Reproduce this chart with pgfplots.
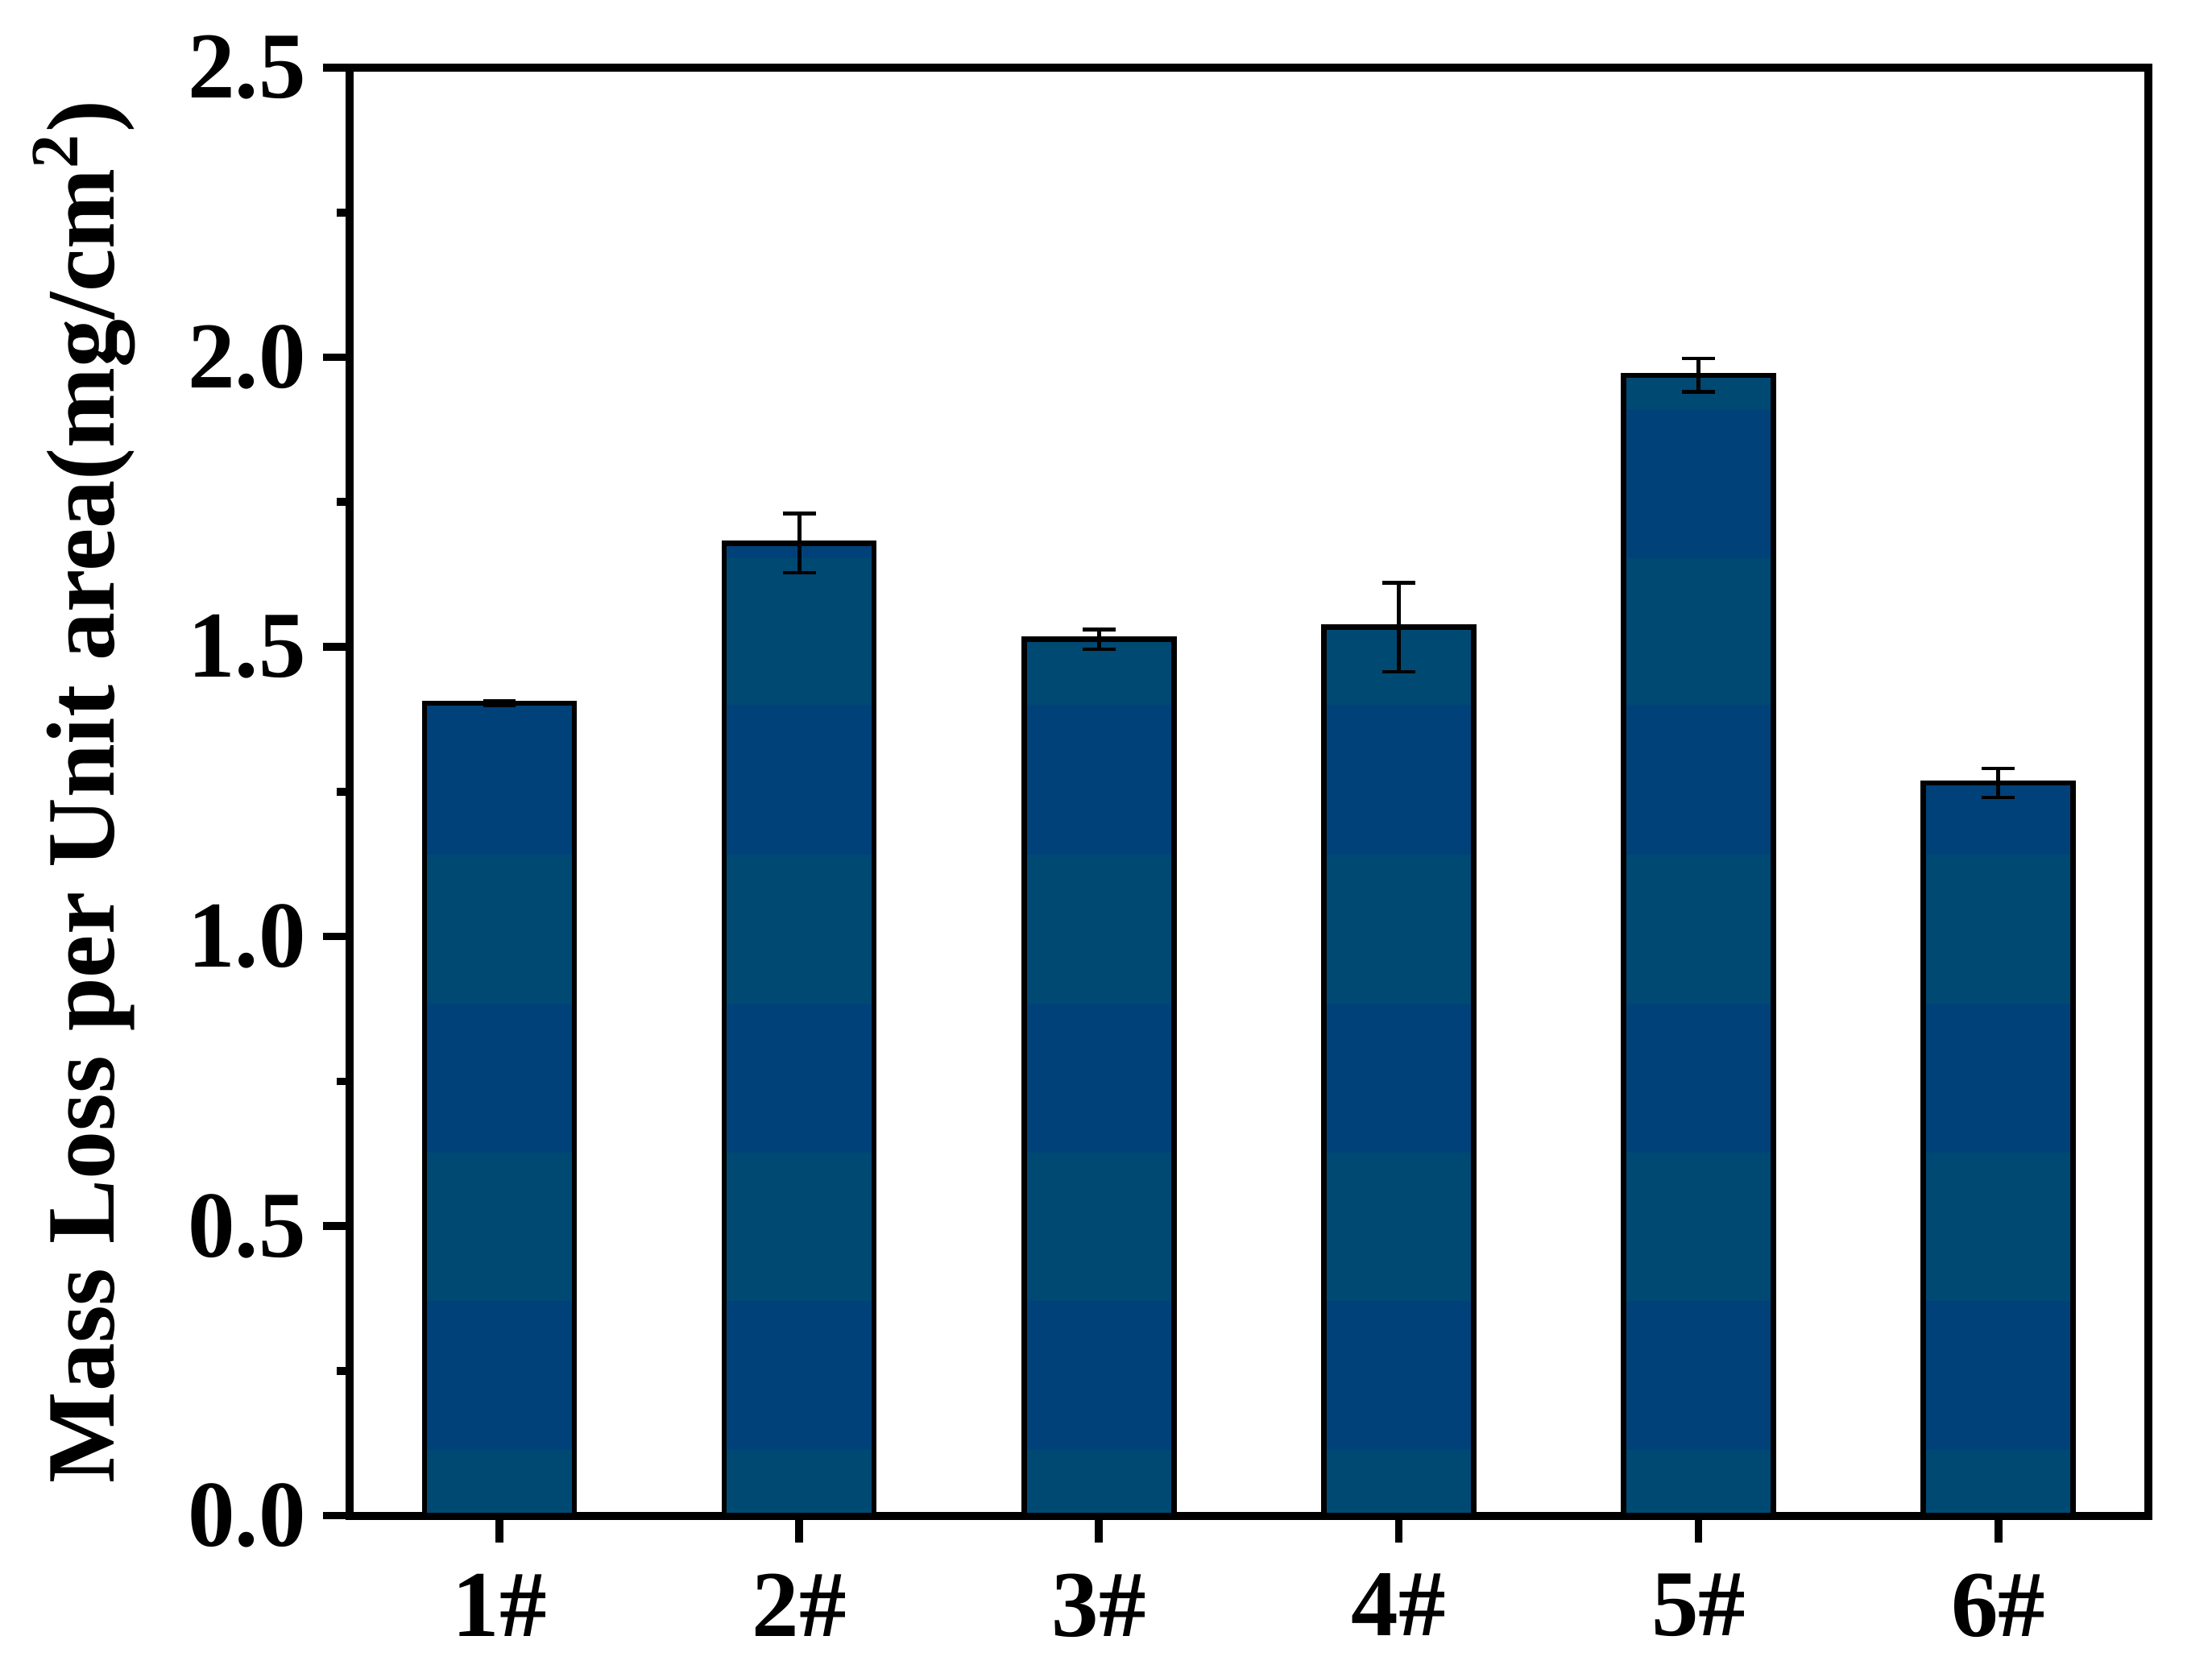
\documentclass[border=0pt]{standalone}
\usepackage{pgfplots}
\pgfplotsset{compat=1.18}
\usepackage{fontspec}
\setmainfont{Liberation Serif}
\definecolor{cT}{RGB}{0,73,115}
\definecolor{cB}{RGB}{1,65,122}
\pgfdeclareverticalshading{barbands}{100bp}{color(0bp)=(cT); color(27.9bp)=(cT); color(27.91bp)=(cB); color(34.45bp)=(cB); color(34.46bp)=(cT); color(40.95bp)=(cT); color(40.96bp)=(cB); color(47.45bp)=(cB); color(47.46bp)=(cT); color(54bp)=(cT); color(54.01bp)=(cB); color(60.55bp)=(cB); color(60.56bp)=(cT); color(67bp)=(cT); color(67.01bp)=(cB); color(73.5bp)=(cB); color(73.51bp)=(cT); color(100bp)=(cT)}
\begin{document}
\begin{tikzpicture}
\begin{axis}[
  width=372pt, height=299.5pt, scale only axis,
  xmin=0.5, xmax=6.5, ymin=0, ymax=2.5,
  xtick={1,2,3,4,5,6},
  xticklabels={1\#,2\#,3\#,4\#,5\#,6\#},
  ytick={0,0.5,1,1.5,2,2.5},
  minor y tick num=1,
  x tick label style={/pgf/number format/assume math mode=true, yshift=-3pt},
  yticklabel style={/pgf/number format/.cd, fixed, fixed zerofill, precision=1, assume math mode=true},
  tick label style={font=\fontsize{19.5}{22}\selectfont\bfseries},
  tick align=outside,
  xtick pos=bottom, ytick pos=left,
  major tick length=5.5pt, minor tick length=2.6pt,
  tick style={line width=1.6pt, black},
  axis line style={line width=1.7pt},
  ylabel={Mass Loss per Unit area(mg/cm\textsuperscript{2})},
  ylabel style={font=\fontsize{20}{24}\selectfont\bfseries, at={(axis description cs:-0.131,0.5)}, anchor=base},
  clip=false,
]
\addplot[ybar, bar width=0.5, draw=black, line width=1.1pt, shading=barbands,
  error bars/.cd, y dir=both, y explicit,
  error bar style={line width=0.8pt, black},
  error mark options={rotate=90, mark size=3.4pt, line width=0.8pt, black}]
coordinates {
  (1,1.403) +- (0,0.004)
  (2,1.679) +- (0,0.051)
  (3,1.513) +- (0,0.017)
  (4,1.534) +- (0,0.077)
  (5,1.969) +- (0,0.029)
  (6,1.265) +- (0,0.025)
};
\end{axis}
\path (current axis.south west) ++(-72.3pt,-30.8pt) coordinate (bbA);
\path (current axis.north east) ++(13.2pt,14pt) coordinate (bbB);
\path (bbA) rectangle (bbB);
\end{tikzpicture}
\end{document}
